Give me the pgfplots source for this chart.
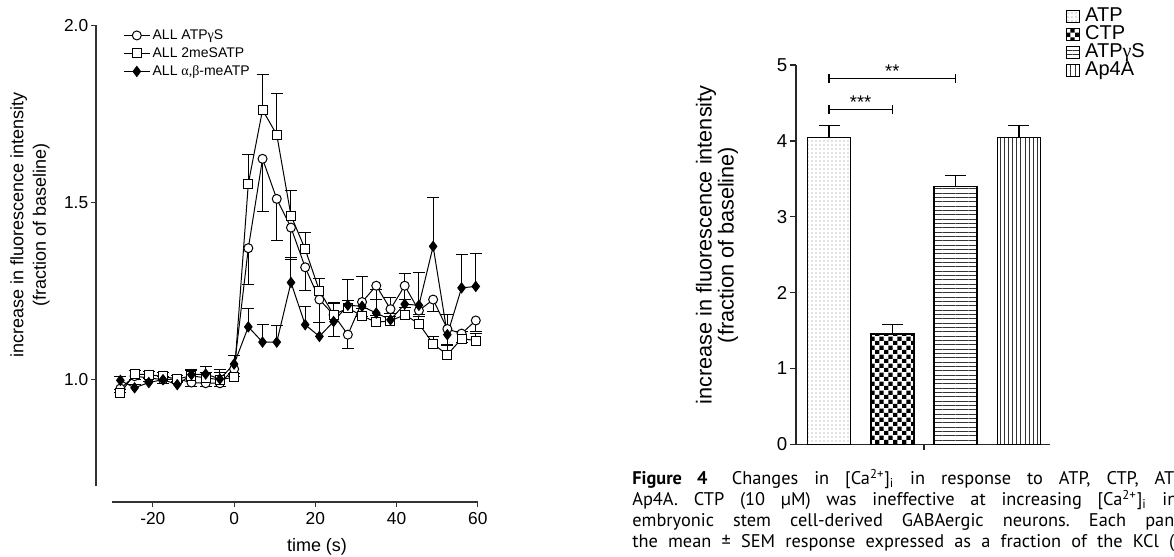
\documentclass[border=0pt]{standalone}
\usepackage{fontspec}
\setmainfont{Liberation Sans}
\newfontfamily\grk{Liberation Serif}
\newfontfamily\capfont{PT Sans}
\usepackage{pgfplots}
\usepackage{pgfplotstable}
\pgfplotsset{compat=1.18}
\usetikzlibrary{patterns,patterns.meta}

\tikzdeclarepattern{
  name=checker, type=uncolored,
  bounding box={(0pt,0pt) and (5.2pt,5.2pt)},
  tile size={(5.2pt,5.2pt)},
  code={\fill (0pt,0pt) rectangle (2.6pt,2.6pt); \fill (2.6pt,2.6pt) rectangle (5.2pt,5.2pt);}
}

% time course, one table per agonist: t, mean, SEM
\pgfplotstableread{
t y e
-28 0.975 0.010
-24.5 1.010 0.010
-21 1.005 0.010
-17.5 1.000 0.010
-14 1.002 0.010
-10.5 0.992 0.010
-7 0.990 0.010
-3.5 0.990 0.010
0 1.030 0.020
3.5 1.371 0.103
7 1.623 0.149
10.5 1.510 0.116
14 1.429 0.091
17.5 1.317 0.065
21 1.226 0.064
24.5 1.183 0.060
28 1.127 0.040
31.5 1.219 0.040
35 1.265 0.038
38.5 1.199 0.020
42 1.265 0.040
45.5 1.195 0.012
49 1.226 0.033
52.5 1.143 0.047
56 1.130 0.026
59.5 1.167 0.031
}\atpgs

\pgfplotstableread{
t y e
-28 0.962 0.010
-24.5 1.016 0.010
-21 1.014 0.010
-17.5 1.009 0.010
-14 1.002 0.010
-10.5 1.011 0.015
-7 1.005 0.015
-3.5 1.000 0.020
0 1.007 0.010
3.5 1.553 0.082
7 1.761 0.099
10.5 1.691 0.115
14 1.463 0.070
17.5 1.368 0.047
21 1.251 0.034
24.5 1.183 0.035
28 1.202 0.020
31.5 1.180 0.020
35 1.162 0.020
38.5 1.166 0.020
42 1.183 0.020
45.5 1.158 0.020
49 1.101 0.020
52.5 1.070 0.030
56 1.116 0.020
59.5 1.110 0.020
}\mesatp

\pgfplotstableread{
t y e
-28 0.998 0.010
-24.5 0.977 0.010
-21 0.992 0.010
-17.5 1.000 0.010
-14 0.986 0.010
-10.5 1.014 0.015
-7 1.016 0.020
-3.5 1.002 0.028
0 1.044 0.025
3.5 1.149 0.051
7 1.106 0.049
10.5 1.106 0.046
14 1.274 0.070
17.5 1.155 0.052
21 1.122 0.038
24.5 1.164 0.052
28 1.210 0.074
31.5 1.207 0.085
35 1.188 0.066
38.5 1.169 0.063
42 1.213 0.086
45.5 1.210 0.091
49 1.376 0.138
52.5 1.127 0.058
56 1.259 0.094
59.5 1.263 0.094
}\abmeatp

\begin{document}
\frenchspacing
\begin{tikzpicture}
\path[use as bounding box] (0pt,0pt) rectangle (704.4pt,334.2pt);

% ---------- left panel: time course ----------
\begin{axis}[
  at={(57.6pt,33pt)}, anchor=south west,
  scale only axis, width=229.1pt, height=286.1pt,
  xmin=-34, xmax=60, ymin=0.655, ymax=2.0,
  axis x line*=bottom, axis y line*=left,
  axis line style={draw=none},
  xtick={-20,0,20,40,60}, xticklabels={-20,0,20,40,60},
  ytick={1,1.5,2}, yticklabels={1.0,1.5,2.0},
  tick align=outside, major tick length=3pt,
  every tick/.style={black!80, line width=0.7pt},
  ticklabel style={font=\fontsize{10.4}{12}\selectfont},
  yticklabel style={inner sep=1.5pt},
  clip=false,
  legend style={at={(rel axis cs:0.0707,0.998)}, anchor=north west, draw=none, fill=none,
    font=\fontsize{8.4}{9}\selectfont, inner sep=0pt, row sep=0pt,
    nodes={inner sep=1.4pt, text height=6.2pt, text depth=1.8pt}},
  legend cell align=left,
  legend image code/.code={\draw[mark repeat=2,mark phase=2,#1] plot coordinates {(0pt,0pt) (7.8pt,0pt) (15.6pt,0pt)};},
]
\draw[black!80, line width=0.8pt] (axis cs:-30,0.655) -- (axis cs:60,0.655);
\draw[black!80, line width=0.8pt] (axis cs:-34,0.70) -- (axis cs:-34,2.0);

\addplot[black, line width=0.6pt, mark=*, mark size=2.7pt, mark options={fill=white, solid},
  error bars/.cd, y dir=minus, y explicit,
  error bar style={line width=0.6pt, black},
  error mark options={rotate=90, black, mark size=3.6pt, line width=0.6pt}]
  table[x=t, y=y, y error=e] {\atpgs};
\addlegendentry{ALL ATP{\grk γ}S}

\addplot[black, line width=0.6pt, mark=square*, mark size=2.7pt, mark options={fill=white, solid},
  error bars/.cd, y dir=plus, y explicit,
  error bar style={line width=0.6pt, black},
  error mark options={rotate=90, black, mark size=3.6pt, line width=0.6pt}]
  table[x=t, y=y, y error=e] {\mesatp};
\addlegendentry{ALL 2meSATP}

\addplot[black, line width=0.6pt, mark=diamond*, mark size=3pt, mark options={fill=black, solid},
  error bars/.cd, y dir=plus, y explicit,
  error bar style={line width=0.6pt, black},
  error mark options={rotate=90, black, mark size=3.6pt, line width=0.6pt}]
  table[x=t, y=y, y error=e] {\abmeatp};
\addlegendentry{ALL {\grk α,β}-meATP}
\end{axis}

\node[rotate=90, align=center, font=\fontsize{10.8}{13.5}\selectfont] at (18pt,199.2pt)
  {increase in fluorescence intensity\\(fraction of baseline)};
\node[font=\fontsize{10.8}{13}\selectfont] at (190.2pt,6pt) {time (s)};

% ---------- right panel: bars ----------
\begin{axis}[
  at={(477.6pt,67.6pt)}, anchor=south west,
  scale only axis, width=152.4pt, height=227.6pt,
  xmin=-0.521, xmax=3.49, ymin=0, ymax=5,
  axis x line*=bottom, axis y line*=left,
  axis line style={black!85, line width=0.8pt},
  xtick={1.5}, xticklabels={},
  ytick={0,1,2,3,4,5}, yticklabels={0,1,2,3,4,5},
  tick align=outside, major tick length=3.6pt,
  every tick/.style={black!85, line width=0.8pt},
  ticklabel style={font=\fontsize{11.2}{13}\selectfont},
  yticklabel style={inner sep=1.5pt},
  clip=false,
  legend style={at={(rel axis cs:1.063,1.153)}, anchor=north west, draw=none, fill=none,
    font=\fontsize{12}{13}\selectfont, inner sep=0pt, row sep=0pt,
    nodes={inner sep=0.8pt, text height=7.6pt, text depth=1.6pt},
    /tikz/every odd column/.append style={column sep=2.5pt}},
  legend cell align=left,
  legend image code/.code={\draw[#1, draw=black, line width=0.6pt] (0pt,-3.6pt) rectangle (7.4pt,3.6pt);},
]
\addplot[ybar, bar width=0.68, bar shift=0pt, draw=black, line width=0.9pt,
  pattern={Dots[distance=2.4pt, radius=0.35pt]}, pattern color=gray,
  error bars/.cd, y dir=plus, y explicit,
  error bar style={line width=0.8pt, black},
  error mark options={rotate=90, black, mark size=6.3pt, line width=0.8pt}]
  coordinates {(0,4.047) +- (0,0.153)};
\addlegendentry{ATP}

\addplot[ybar, bar width=0.68, bar shift=0pt, draw=black, line width=0.9pt,
  pattern=checker, pattern color=black,
  error bars/.cd, y dir=plus, y explicit,
  error bar style={line width=0.8pt, black},
  error mark options={rotate=90, black, mark size=6.3pt, line width=0.8pt}]
  coordinates {(1,1.454) +- (0,0.128)};
\addlegendentry{CTP}

\addplot[ybar, bar width=0.68, bar shift=0pt, draw=black, line width=0.9pt,
  pattern={Lines[angle=0, distance=2.6pt, line width=0.45pt]}, pattern color=black!80,
  error bars/.cd, y dir=plus, y explicit,
  error bar style={line width=0.8pt, black},
  error mark options={rotate=90, black, mark size=6.3pt, line width=0.8pt}]
  coordinates {(2,3.400) +- (0,0.146)};
\addlegendentry{ATP{\grk γ}S}

\addplot[ybar, bar width=0.68, bar shift=0pt, draw=black, line width=0.9pt,
  pattern={Lines[angle=90, distance=2.5pt, line width=0.45pt]}, pattern color=black!80,
  error bars/.cd, y dir=plus, y explicit,
  error bar style={line width=0.8pt, black},
  error mark options={rotate=90, black, mark size=6.3pt, line width=0.8pt}]
  coordinates {(3,4.047) +- (0,0.153)};
\addlegendentry{Ap4A}

% significance brackets
\addplot[forget plot, black, line width=0.8pt, mark=|, mark size=2.6pt, mark options={solid}]
  coordinates {(0,4.41) (1,4.41)};
\addplot[forget plot, black, line width=0.8pt, mark=|, mark size=2.6pt, mark options={solid}]
  coordinates {(0,4.82) (2,4.82)};
\node[anchor=base, font=\fontsize{11}{12}\selectfont, inner sep=0pt] at (axis cs:0.5,4.43) {***};
\node[anchor=base, font=\fontsize{11}{12}\selectfont, inner sep=0pt] at (axis cs:1,4.84) {**};
\end{axis}

\node[rotate=90, align=center, font=\fontsize{13}{13.2}\selectfont] at (430.2pt,187.2pt)
  {increase in fluorescence intensity\\(fraction of baseline)};

% ---------- caption, cut at the page edge ----------
\begin{scope}
\clip (0pt,0pt) rectangle (704.4pt,334.2pt);
\begin{scope}[every node/.style={anchor=base west, inner sep=0pt, font=\capfont\fontsize{11}{12.6}\selectfont}]
\node at (379.2pt,43.2pt) {\makebox[325.2pt][s]{\textbf{Figure 4}\hspace{5pt} Changes in [Ca\textsuperscript{2+}]\textsubscript{i} in response to ATP, CTP, AT}P};
\node at (379.2pt,30.6pt) {\makebox[327pt][s]{Ap4A. CTP (10 µM) was ineffective at increasing [Ca\textsuperscript{2+}]\textsubscript{i} in}};
\node at (379.2pt,18pt) {\makebox[325.2pt][s]{embryonic stem cell-derived GABAergic neurons. Each pan}el};
\node at (379.2pt,5.4pt) {\makebox[325.2pt][s]{the mean ± SEM response expressed as a fraction of the KCl (}};
\end{scope}
\end{scope}
\end{tikzpicture}
\end{document}
